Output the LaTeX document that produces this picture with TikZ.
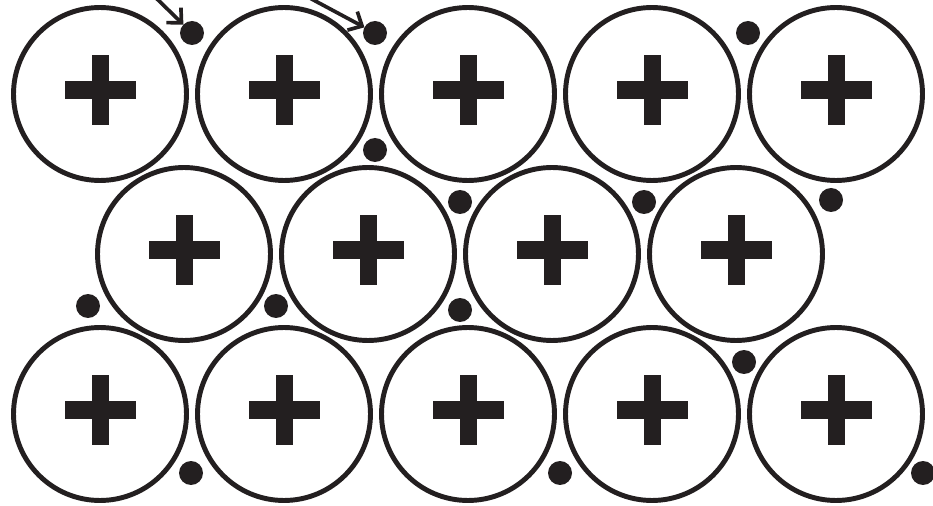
\documentclass[tikz,border=0pt]{standalone}
\usepackage{xcolor}
\usepackage{tikz}
\usetikzlibrary{arrows.meta, positioning, calc}
\definecolor{inkblack}{RGB}{35,31,32}

\begin{document}
\begin{tikzpicture}[
    x=0.02cm, y=-0.02cm,
    ion/.style={circle, draw=inkblack, line width=2.8pt, fill=white,
                inner sep=0pt, outer sep=0pt, minimum size=3.46cm},
    elec/.style={circle, fill=inkblack, inner sep=0pt, outer sep=0pt,
                 minimum size=0.48cm},
    a/.style={-{Straight Barb[length=2.2mm, width=4.2mm]},
              line width=2.1pt, color=inkblack},
]

%% ─── frame (fixes the margins) ───────────────────────────────
\useasboundingbox (0,0) rectangle (933,506);

%% ─── positive ions ───────────────────────────────────────────
\foreach \row/\y/\xo/\n in {1/94/100/5, 2/254/184/4, 3/414/100/5} {
  \foreach \k in {1,...,\n} {
    \node[ion] (ion\row\k) at ({\xo+184*(\k-1)}, \y) {};
    % plus sign
    \fill[inkblack] ($(ion\row\k.center)+(-35.5,-13)$) rectangle
                    ($(ion\row\k.center)+(35.5,5)$);
    \fill[inkblack] ($(ion\row\k.center)+(-8.5,-39)$) rectangle
                    ($(ion\row\k.center)+(8.5,31)$);
  }
}

%% ─── free electrons ──────────────────────────────────────────
\node[elec] (e1)  at (192, 33)  {};
\node[elec] (e2)  at (375, 33)  {};
\node[elec] (e3)  at (748, 33)  {};
\node[elec] (e4)  at (375, 150) {};
\node[elec] (e5)  at (460, 202) {};
\node[elec] (e6)  at (644, 202) {};
\node[elec] (e7)  at (831, 200) {};
\node[elec] (e8)  at (88, 306)  {};
\node[elec] (e9)  at (276, 306) {};
\node[elec] (e10) at (460, 310) {};
\node[elec] (e11) at (744, 362) {};
\node[elec] (e12) at (191, 473) {};
\node[elec] (e13) at (560, 473) {};
\node[elec] (e14) at (923, 473) {};

%% ─── electron drift arrows ───────────────────────────────────
\coordinate (s1) at (154, -4);
\coordinate (s2) at (306, -4);
\draw[a] (s1) -- (e1);
\draw[a] (s2) -- (e2);

\end{tikzpicture}
\end{document}
